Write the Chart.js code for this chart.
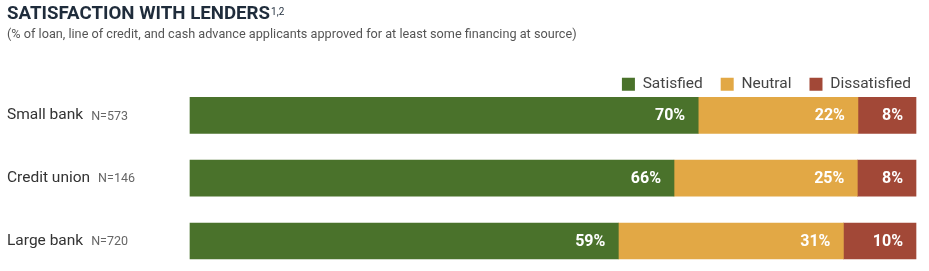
<!DOCTYPE html>
<html>
<head>
<meta charset="utf-8">
<script src="https://cdn.jsdelivr.net/npm/chart.js@4/dist/chart.umd.min.js"></script>
<style>
  html, body { margin: 0; padding: 0; background: #fff; }
  #wrap { width: 929px; height: 271px; position: relative; }
</style>
</head>
<body>
<div id="wrap"><canvas id="lenderChart"></canvas></div>
<script>
const categories = ['Small bank', 'Credit union', 'Large bank'];
const sampleSizes = ['N=573', 'N=146', 'N=720'];
const seriesNames = ['Satisfied', 'Neutral', 'Dissatisfied'];
const satisfied = [70, 66, 59];
const neutral = [22, 25, 31];
const dissatisfied = [8, 8, 10];

const green = '#4a722b';
const yellow = '#e2a845';
const red = '#a24837';
const font = 'Roboto';
const titleSize = 18.7;

// bars are shown as full 100% stacks, so each row is scaled by its own total
const totals = categories.map((c, i) => satisfied[i] + neutral[i] + dissatisfied[i]);
const share = arr => arr.map((v, i) => v / totals[i] * 100);

const categoryLabels = {
    id: 'categoryLabels',
    afterDraw(chart) {
        const ctx = chart.ctx;
        const y = chart.scales.y;
        ctx.save();
        ctx.textBaseline = 'middle';
        ctx.textAlign = 'left';
        categories.forEach((name, i) => {
            const py = y.getPixelForValue(i);
            ctx.font = '15.5px ' + font;
            ctx.fillStyle = '#333';
            ctx.fillText(name, 7, py);
            const w = ctx.measureText(name).width;
            ctx.font = '12.5px ' + font;
            ctx.fillStyle = '#666';
            ctx.fillText(sampleSizes[i], 7 + w + 8, py + 1);
        });
        ctx.restore();
    }
};

const valueLabels = {
    id: 'valueLabels',
    afterDatasetsDraw(chart) {
        const ctx = chart.ctx;
        const raw = [satisfied, neutral, dissatisfied];
        ctx.save();
        ctx.font = 'bold 16px ' + font;
        ctx.fillStyle = '#fff';
        ctx.textAlign = 'right';
        ctx.textBaseline = 'middle';
        chart.data.datasets.forEach((ds, d) => {
            chart.getDatasetMeta(d).data.forEach((bar, i) => {
                ctx.fillText(raw[d][i] + '%', bar.x - 13, bar.y + 1);
            });
        });
        ctx.restore();
    }
};

const titleSup = {
    id: 'titleSup',
    afterDraw(chart) {
        const ctx = chart.ctx;
        ctx.save();
        ctx.font = 'bold ' + titleSize + 'px ' + font;
        const w = ctx.measureText(chart.options.plugins.title.text).width;
        ctx.font = '10px ' + font;
        ctx.fillStyle = '#1f2c3b';
        ctx.textBaseline = 'top';
        ctx.fillText('1,2', 7 + w + 1, 7);
        ctx.restore();
    }
};

new Chart(document.getElementById('lenderChart').getContext('2d'), {
    type: 'bar',
    data: {
        labels: categories,
        datasets: [
            { label: seriesNames[0], data: share(satisfied), backgroundColor: green },
            { label: seriesNames[1], data: share(neutral), backgroundColor: yellow },
            { label: seriesNames[2], data: share(dissatisfied), backgroundColor: red }
        ]
    },
    options: {
        indexAxis: 'y',
        responsive: true,
        maintainAspectRatio: false,
        animation: false,
        layout: { padding: { left: 7, right: 0, top: 0, bottom: 30 } },
        datasets: {
            bar: { barThickness: 36, borderWidth: 0, clip: false }
        },
        plugins: {
            title: {
                display: true,
                text: 'SATISFACTION WITH LENDERS',
                align: 'start',
                color: '#1f2c3b',
                font: { family: font, size: titleSize, weight: 'bold' },
                padding: { top: 3, bottom: 2 }
            },
            subtitle: {
                display: true,
                text: '(% of loan, line of credit, and cash advance applicants approved for at least some financing at source)',
                align: 'start',
                color: '#555',
                font: { family: font, size: 12.7 },
                padding: { top: 0, bottom: 15.7 }
            },
            legend: {
                position: 'top',
                align: 'end',
                labels: {
                    boxWidth: 13,
                    boxHeight: 13,
                    padding: 18,
                    color: '#444',
                    font: { family: font, size: 15.5 }
                }
            },
            tooltip: { enabled: false }
        },
        scales: {
            x: {
                stacked: true,
                min: 0,
                max: 100,
                position: 'top',
                ticks: { display: false },
                grid: { display: false },
                border: { display: false },
                afterFit: s => { s.height = 13.5; }
            },
            y: {
                stacked: true,
                offset: false,
                ticks: { display: false },
                grid: { display: false },
                border: { display: false },
                afterFit: s => { s.width = 183; }
            },
            yRight: {
                type: 'category',
                position: 'right',
                ticks: { display: false },
                grid: { display: false },
                border: { display: false },
                afterFit: s => { s.width = 13; }
            }
        }
    },
    plugins: [categoryLabels, valueLabels, titleSup]
});
</script>
</body>
</html>
